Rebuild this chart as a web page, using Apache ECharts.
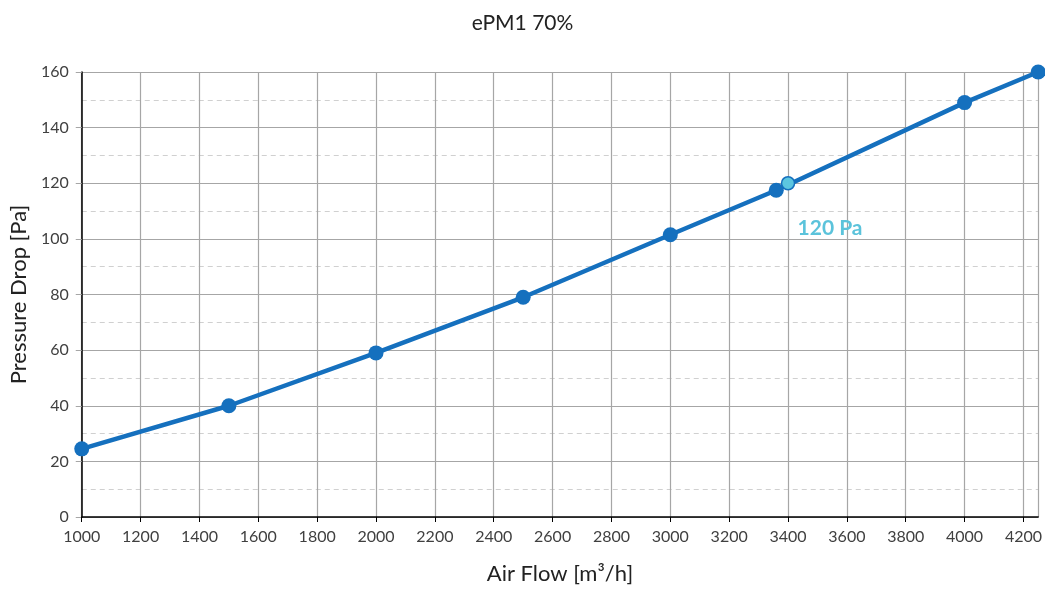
<!DOCTYPE html>
<html><head><meta charset="utf-8">
<script src="https://cdn.jsdelivr.net/npm/echarts@6/dist/echarts.min.js"></script>
<style>html,body{margin:0;padding:0;background:#fff}#c{width:1045px;height:590px}</style>
</head><body><div id="c"></div>
<script>
const titleText = 'ePM1 70%';
const xName = 'Air Flow [m³/h]';
const yName = 'Pressure Drop [Pa]';
const airflow = [1000, 1500, 2000, 2500, 3000, 3360, 4000, 4250];
const pressure = [24.5, 40, 59, 79, 101.5, 117.5, 149, 160];
const highlightX = [3400];
const highlightY = [120];
const highlightLabel = '120 Pa';

const font = 'Lato, "Open Sans", sans-serif';
const chart = echarts.init(document.getElementById('c'));
chart.setOption({
  animation: false,
  title: {text: titleText, left: 'center', top: 8,
    textStyle: {fontFamily: font, fontSize: 21, fontWeight: 'normal', color: '#222'}},
  grid: {left: 81, right: 5, top: 72, bottom: 64},
  xAxis: {
    type: 'value', min: 1000, max: 4250, interval: 200,
    name: xName, nameLocation: 'middle', nameGap: 46,
    nameTextStyle: {fontFamily: font, fontSize: 22, color: '#222'},
    axisLine: {lineStyle: {color: '#000', width: 1.5}},
    axisTick: {show: true, length: 5, lineStyle: {color: '#000'}},
    axisLabel: {fontFamily: font, fontSize: 16, color: '#404040', margin: 12, showMaxLabel: false,
      formatter: v => String(v)},
    splitLine: {show: true, lineStyle: {color: '#A6A6A6', width: 1.2}}
  },
  yAxis: {
    type: 'value', min: 0, max: 160, interval: 20,
    name: yName, nameLocation: 'middle', nameGap: 48,
    nameTextStyle: {fontFamily: font, fontSize: 22, color: '#222'},
    axisLine: {show: true, lineStyle: {color: '#000', width: 1.5}},
    axisTick: {show: true, length: 6, lineStyle: {color: '#A6A6A6'}},
    axisLabel: {fontFamily: font, fontSize: 16, color: '#404040', margin: 13},
    splitLine: {show: true, lineStyle: {color: '#A6A6A6', width: 1.2}},
    minorTick: {show: false, splitNumber: 2},
    minorSplitLine: {show: true, lineStyle: {color: '#D0D0D0', type: [5, 4], width: 1}}
  },
  series: [
    {
      type: 'line',
      data: airflow.map((x, i) => [x, pressure[i]]),
      lineStyle: {color: '#1570BE', width: 4.5},
      itemStyle: {color: '#1570BE'},
      symbol: 'circle', symbolSize: 15,
      z: 2
    },
    {
      type: 'line',
      data: highlightX.map((x, i) => [x, highlightY[i]]),
      symbol: 'circle', symbolSize: 13,
      itemStyle: {color: '#5CC6E0', borderColor: '#1570BE', borderWidth: 1.5},
      label: {show: true, formatter: highlightLabel, position: 'bottom', offset: [42, 22],
        fontFamily: font, fontSize: 21, fontWeight: 'bold', color: '#5BC3DB'},
      z: 3
    }
  ]
});
</script></body></html>
